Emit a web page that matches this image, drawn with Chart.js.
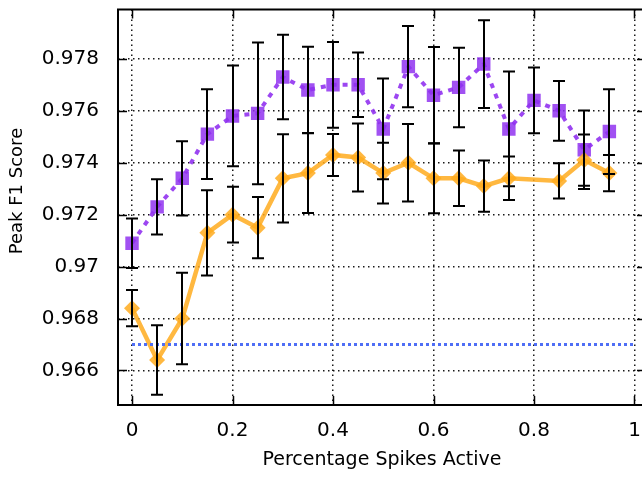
<!DOCTYPE html>
<html><head><meta charset="utf-8">
<script src="https://cdn.jsdelivr.net/npm/chart.js@4.4.1/dist/chart.umd.min.js"></script>
<style>html,body{margin:0;padding:0;overflow:hidden;background:#fff}#wrap{width:660px;height:478px}</style>
</head><body><div id="wrap"><canvas id="c" width="660" height="478"></canvas></div>
<script>
const xValues = [0,0.05,0.1,0.15,0.2,0.25,0.3,0.35,0.4,0.45,0.5,0.55,0.6,0.65,0.7,0.75,0.8,0.85,0.9,0.95];
const purpleScores = [0.9709,0.9723,0.9734,0.9751,0.9758,0.9759,0.9773,0.9768,0.9770,0.9770,0.9753,0.9777,0.9766,0.9769,0.9778,0.9753,0.9764,0.9760,0.9745,0.9752];
const purpleErrors = [0.00095,0.00106,0.00143,0.00173,0.00194,0.00273,0.00163,0.00167,0.00165,0.00124,0.00194,0.00156,0.00186,0.00153,0.00169,0.00221,0.00127,0.00115,0.00151,0.00163];
const orangeScores = [0.9684,0.9664,0.9680,0.9713,0.9720,0.9715,0.9734,0.9736,0.9743,0.9742,0.9736,0.9740,0.9734,0.9734,0.9731,0.9734,null,0.9733,0.9741,0.9736];
const orangeErrors = [0.0007,0.00134,0.00176,0.00164,0.00107,0.00118,0.0017,0.00154,0.00081,0.00131,0.00117,0.00149,0.00135,0.00107,0.00099,0.00084,null,0.00068,0.00099,0.0007];
const baselineX = [0, 1];
const baselineScore = 0.967;
const xTicks = [0,0.2,0.4,0.6,0.8,1];
const yTicks = [0.966,0.968,0.970,0.972,0.974,0.976,0.978];
const xTitle = 'Percentage Spikes Active';
const yTitle = 'Peak F1 Score';

const FONT = "'DejaVu Sans', sans-serif";

function pts(xs, ys, errs){
  const out = [];
  xs.forEach((x,i)=>{ if (ys[i] !== null) out.push({x:x, y:ys[i], err: errs ? errs[i] : 0}); });
  return out;
}

const errorBars = {
  id:'errorBars',
  afterDatasetsDraw(chart){
    const ctx = chart.ctx, ys = chart.scales.y;
    ctx.save();
    ctx.strokeStyle = '#000'; ctx.lineWidth = 2;
    chart.data.datasets.forEach((ds, di)=>{
      if (!ds.hasErrors) return;
      const meta = chart.getDatasetMeta(di);
      meta.data.forEach((el, i)=>{
        const d = ds.data[i];
        const x = Math.round(el.x);
        const top = ys.getPixelForValue(d.y + d.err);
        const bot = ys.getPixelForValue(d.y - d.err);
        ctx.beginPath();
        ctx.moveTo(x, top); ctx.lineTo(x, bot);
        ctx.moveTo(x-6, top); ctx.lineTo(x+6, top);
        ctx.moveTo(x-6, bot); ctx.lineTo(x+6, bot);
        ctx.stroke();
      });
    });
    ctx.restore();
  }
};

const frame = {
  id:'frame',
  beforeDatasetsDraw(chart){
    const {ctx, chartArea:a, scales} = chart;
    ctx.save();
    ctx.strokeStyle = '#000'; ctx.lineWidth = 2;
    ctx.strokeRect(a.left, a.top, a.right - a.left, a.bottom - a.top);
    ctx.lineWidth = 1.5;
    ctx.beginPath();
    yTicks.forEach(v=>{
      const y = Math.round(scales.y.getPixelForValue(v)) + 0.5;
      ctx.moveTo(a.left, y); ctx.lineTo(a.left + 9, y);
      ctx.moveTo(a.right, y); ctx.lineTo(a.right - 9, y);
    });
    xTicks.forEach(v=>{
      const x = Math.round(scales.x.getPixelForValue(v)) + 0.5;
      ctx.moveTo(x, a.bottom); ctx.lineTo(x, a.bottom - 9);
      ctx.moveTo(x, a.top); ctx.lineTo(x, a.top + 9);
    });
    ctx.stroke();
    ctx.restore();
  },
  afterDraw(chart){
    const {ctx, chartArea:a} = chart;
    ctx.save();
    ctx.fillStyle = '#000';
    ctx.textAlign = 'center'; ctx.textBaseline = 'alphabetic';
    ctx.font = '19px ' + FONT;
    ctx.fillText(xTitle, (a.left + a.right)/2, 465);
    ctx.font = '18px ' + FONT;
    ctx.translate(22, a.top + 181.5);
    ctx.rotate(-Math.PI/2);
    ctx.fillText(yTitle, 0, 0);
    ctx.restore();
  }
};

const fmt = v => String(parseFloat(Number(v).toFixed(3)));
const noPad = s => { s.paddingTop = 0; s.paddingBottom = 0; s.paddingLeft = 0; s.paddingRight = 0; };

new Chart(document.getElementById('c'), {
  type:'line',
  data:{
    datasets:[
      {
        label:'baseline',
        data: baselineX.map(x=>({x:x, y:baselineScore})),
        borderColor:'#4f6ef5', borderWidth:3, borderDash:[3,3],
        pointRadius:0, fill:false
      },
      {
        label:'orange',
        hasErrors:true,
        data: pts(xValues, orangeScores, orangeErrors),
        borderColor:'rgba(255,172,30,0.85)', borderWidth:4.5,
        pointStyle:'rectRot', pointRadius:8,
        pointBackgroundColor:'rgba(255,172,30,0.85)', pointBorderWidth:0,
        fill:false, tension:0
      },
      {
        label:'purple',
        hasErrors:true,
        data: pts(xValues, purpleScores, purpleErrors),
        borderColor:'rgba(145,50,240,0.9)', borderWidth:4, borderDash:[5,6],
        pointStyle:'rect', pointRadius:9.5,
        pointBackgroundColor:'rgba(145,50,240,0.85)', pointBorderWidth:0,
        fill:false, tension:0
      }
    ]
  },
  options:{
    responsive:false, animation:false, devicePixelRatio:1,
    layout:{padding:{top:7, right:14, left:0, bottom:0}},
    plugins:{legend:{display:false}, tooltip:{enabled:false}},
    scales:{
      x:{
        type:'linear', min:-0.0279, max:1.0229,
        afterBuildTicks(s){ s.ticks = xTicks.map(v=>({value:v})); },
        afterFit(s){ s.height = 73; noPad(s); },
        grid:{color:'rgba(0,0,0,0.9)', lineWidth:1.5, drawTicks:false},
        border:{display:false, dash:[1.5,3.5]},
        ticks:{color:'#000', font:{family:FONT, size:20}, padding:14, maxRotation:0, callback:fmt}
      },
      y:{
        type:'linear', min:0.96467, max:0.9799,
        afterBuildTicks(s){ s.ticks = yTicks.map(v=>({value:v})); },
        afterFit(s){ s.width = 118; noPad(s); },
        grid:{color:'rgba(0,0,0,0.9)', lineWidth:1.5, drawTicks:false},
        border:{display:false, dash:[1.5,3.5]},
        ticks:{color:'#000', font:{family:FONT, size:20}, padding:19, callback:fmt}
      }
    }
  },
  plugins:[frame, errorBars]
});
</script></body></html>
